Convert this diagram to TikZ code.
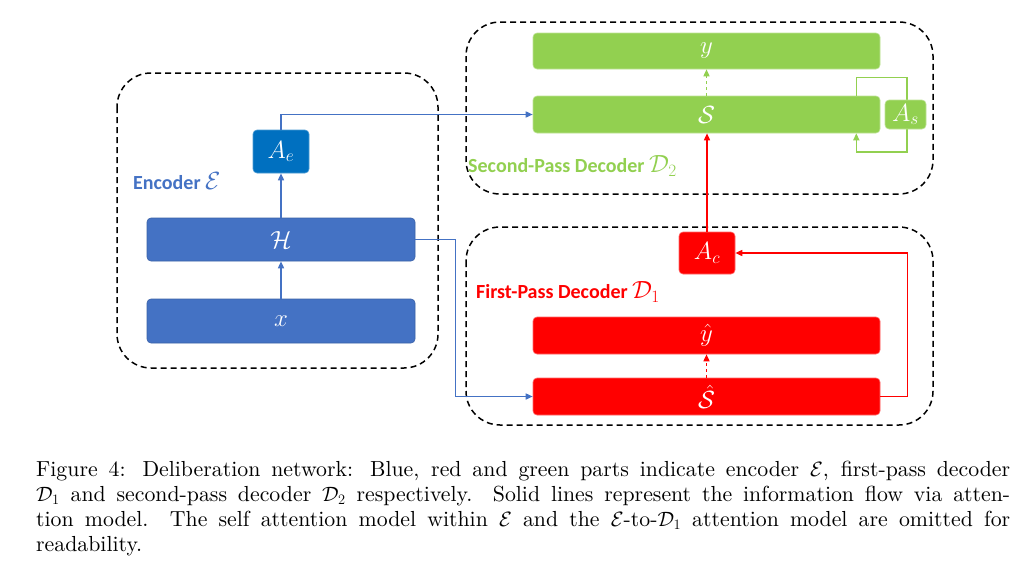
\documentclass[tikz,border=0pt]{standalone}
\usepackage{fontspec}
\setmainfont{lmroman10-regular.otf}
\newfontfamily\labfont{Carlito}
\usetikzlibrary{arrows.meta}
\definecolor{encblue}{HTML}{4472C4}
\definecolor{aeblue}{HTML}{0070C0}
\definecolor{decgreen}{HTML}{92D050}
\definecolor{decred}{HTML}{FF0000}
\newcommand{\bigmath}[1]{{\fontsize{24}{24}\selectfont$#1$}}
\tikzset{
  blk/.style={rectangle, rounded corners=4pt, inner sep=0pt, text=white,
    font=\fontsize{23}{26}\selectfont, line width=0.6pt},
  bluebox/.style={blk, fill=encblue, draw=encblue!85!black},
  aebox/.style={blk, fill=aeblue, draw=aeblue!70!white},
  greenbox/.style={blk, fill=decgreen, draw=decgreen!60!white},
  redbox/.style={blk, fill=decred, draw=decred!60!white},
  container/.style={draw=black, line width=1.5pt, dash pattern=on 6pt off 4pt, rounded corners=34pt},
  conn/.style={line width=1.5pt, -{Triangle[length=7pt,width=6pt]}},
  bl/.style={conn, draw=encblue},
  gr/.style={conn, draw=decgreen},
  rd/.style={conn, draw=decred},
  grouplabel/.style={font=\labfont\bfseries\fontsize{20}{24}\selectfont, anchor=west, inner sep=0pt},
}
\begin{document}
\begin{tikzpicture}[x=1pt,y=-1pt]
\useasboundingbox[fill=white] (0,0) rectangle (1032,576);
% containers
\draw[container] (117,73) rectangle (438,368);
\draw[container] (466,22) rectangle (933,194);
\draw[container] (466,227) rectangle (933,425);
% encoder
\node[bluebox, minimum width=268pt, minimum height=44pt] (x) at (281,321) {$x$};
\node[bluebox, minimum width=268pt, minimum height=43pt] (H) at (281,239.5) {$\mathcal{H}$};
\node[aebox, minimum width=56pt, minimum height=43pt] (Ae) at (281,151.5) {$A_e$};
\node[grouplabel, text=encblue] (enclab) at (133,181) {Encoder \bigmath{\mathcal{E}}};
% second-pass decoder
\node[greenbox, minimum width=347pt, minimum height=36pt] (y) at (706.5,51) {$y$};
\node[greenbox, minimum width=347pt, minimum height=37pt] (S) at (706.5,114.5) {$\mathcal{S}$};
\node[grouplabel, text=decgreen] (d2lab) at (468,166) {Second-Pass Decoder \bigmath{\mathcal{D}_2}};
% first-pass decoder
\node[redbox, minimum width=56pt, minimum height=42pt] (Ac) at (707,253) {$A_c$};
\node[redbox, minimum width=347pt, minimum height=37pt] (yhat) at (706.5,335.5) {$\hat{y}$};
\node[redbox, minimum width=347pt, minimum height=37pt] (Shat) at (706.5,396.5) {$\hat{\mathcal{S}}$};
\node[grouplabel, text=decred] (d1lab) at (476,292) {First-Pass Decoder \bigmath{\mathcal{D}_1}};
% connectors
\draw[bl] (x.north) -- (H.south);
\draw[bl] (H.north) -- (Ae.south);
\draw[bl] (Ae.north) |- (S.west);
\draw[bl] (H.east) -- ++(40,0) |- (Shat.west);
\draw[gr, dashed] (S.north) -- (y.south);
\draw[gr] ([xshift=-24pt]S.north east) -- ++(0,-18) -| (907,152) -| ([xshift=-24pt]S.south east);
\node[greenbox, minimum width=41pt, minimum height=29pt] (As) at (905.5,114.5) {$A_s$};
\draw[rd, dashed] (Shat.north) -- (yhat.south);
\draw[rd] (Ac.north) -- (Ac.north |- S.south);
\draw[rd] (Shat.east) -- ++(27,0) |- (Ac.east);
% caption
\node[anchor=north west, inner sep=0pt, text width=974pt, align=justify,
  font=\fontsize{21.8}{24.9}\selectfont] (cap) at (36,461)
  {Figure 4: Deliberation network: Blue, red and green parts indicate encoder $\mathcal{E}$, first-pass decoder\linebreak
   $\mathcal{D}_1$ and second-pass decoder $\mathcal{D}_2$ respectively. Solid lines represent the information flow via atten-\linebreak
   tion model. The self attention model within $\mathcal{E}$ and the $\mathcal{E}$-to-$\mathcal{D}_1$ attention model are omitted for\linebreak
   readability.};
\end{tikzpicture}
\end{document}
